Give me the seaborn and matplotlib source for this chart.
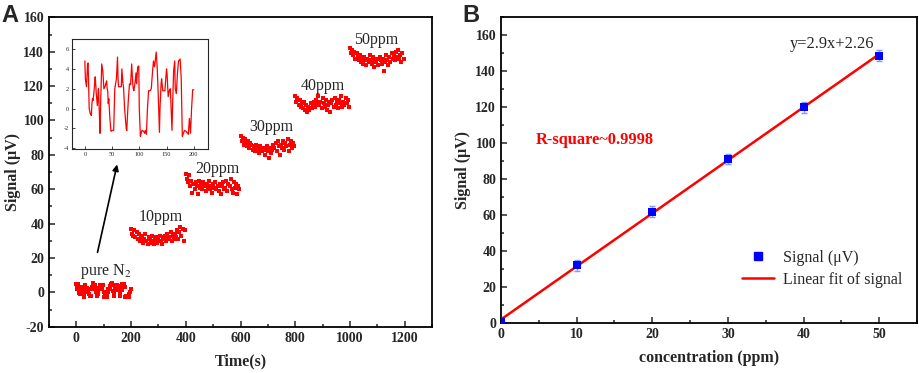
import numpy as np
import pandas as pd
import matplotlib.pyplot as plt
from matplotlib.ticker import MultipleLocator
from matplotlib.lines import Line2D
import seaborn as sns

sns.set_style("ticks")
plt.rcParams['font.family'] = ['Liberation Serif', 'DejaVu Serif']
plt.rcParams['mathtext.fontset'] = 'stix'
plt.rcParams['axes.unicode_minus'] = False

# pure N2 trace (also the inset)
n2_time = [0, 1, 3, 5, 6, 8, 10, 12, 13, 14,
           15, 17, 19, 20, 21, 23, 24, 25, 26, 27,
           28, 29, 30, 31, 33, 35, 37, 40, 41, 42,
           43, 44, 46, 48, 50, 53, 55, 58, 60, 61,
           62, 65, 67, 68, 70, 71, 73, 76, 77, 78,
           80, 82, 84, 86, 88, 89, 90, 92, 94, 95,
           97, 99, 100, 102, 103, 105, 108, 110, 111, 113,
           115, 117, 120, 122, 124, 126, 128, 131, 133, 135,
           137, 138, 140, 141, 143, 147, 150, 151, 153, 155,
           157, 160, 161, 163, 165, 166, 168, 170, 172, 175,
           177, 179, 181, 183, 186, 190, 192, 194, 196, 198, 200]
n2_signal = [4.8, 3.0, 2.2, 4.5, 4.6, 0.0, -0.5, -0.7, 0.5, 1.0,
             0.8, 1.8, 3.2, 2.5, 1.5, 0.3, 1.2, 2.0, 0.5, -1.0,
             -2.5, 0.5, 2.5, 4.5, 3.8, 2.0, 2.2, 2.8, 2.0, 1.8,
             0.5, 1.0, -1.0, -2.3, -2.2, -2.2, 2.0, 3.0, 5.2, 3.0,
             2.2, 2.2, 2.2, 4.0, 2.5, 2.2, 0.0, -2.0, -2.2, -1.0,
             1.0, 2.5, 2.4, 4.5, 2.5, 2.0, 1.8, 2.5, 3.6, 2.5,
             4.2, 4.3, 0.0, -2.8, -2.6, -2.2, -2.3, -2.5, -2.2, -2.6,
             0.0, 1.8, 1.8, 2.0, 3.5, 4.8, 4.2, 5.7, 4.0, 1.0,
             -2.4, 0.0, 2.5, 3.0, 1.8, 1.8, 4.0, 3.5, 1.2, 1.8,
             2.0, -2.2, 0.0, 3.8, 4.8, 2.0, 1.5, 3.5, 4.8, 5.0,
             3.0, -2.8, -2.5, -2.2, -2.3, -2.6, -1.0, -2.5, 0.0, 1.9, 1.9]

# later steps, one reading every 4 s
step_s = 4
seg_10 = [37, 34, 33, 36, 32, 35, 31, 34, 30, 33, 32, 29, 31, 34, 30, 28, 32, 31, 29, 33,
          30, 28, 31, 32, 29, 31, 33, 30, 28, 32, 31, 33, 30, 34, 31, 32, 35, 30, 33, 31,
          34, 32, 36, 31, 35, 38, 33, 37, 30, 36]
seg_20 = [69, 66, 64, 68, 62, 65, 58, 63, 60, 64, 62, 57, 65, 61, 63, 60, 64, 62, 59, 63,
          61, 65, 60, 62, 58, 63, 61, 64, 60, 62, 59, 63, 57, 62, 64, 60, 61, 65, 59, 63,
          62, 66, 60, 58, 64, 61, 63, 57, 62, 60]
seg_30 = [91, 88, 90, 86, 89, 87, 85, 88, 84, 87, 86, 83, 85, 82, 86, 84, 83, 81, 85, 83,
          82, 84, 80, 83, 85, 82, 78, 84, 81, 83, 86, 84, 87, 82, 88, 85, 80, 86, 84, 88,
          83, 87, 85, 89, 82, 86, 88, 84, 87, 85]
seg_40 = [114, 111, 113, 109, 112, 108, 110, 107, 111, 106, 109, 105, 108, 106, 110, 107, 109, 111, 108, 112,
          110, 114, 109, 111, 107, 113, 110, 108, 112, 106, 109, 111, 105, 110, 112, 108, 113, 109, 111, 107,
          112, 110, 114, 108, 111, 109, 113, 110, 112, 108]
seg_50 = [142, 139, 141, 138, 140, 136, 139, 137, 135, 138, 134, 136, 133, 137, 135, 132, 136, 134, 138, 135,
          133, 137, 131, 135, 134, 136, 132, 137, 135, 133, 136, 129, 134, 138, 135, 132, 137, 134, 139, 136,
          138, 135, 140, 137, 141, 136, 138, 134, 139, 136]
seg_start = [200, 400, 600, 800, 1000]

step_labels = ['pure N$_2$', '10ppm', '20ppm', '30ppm', '40ppm', '50ppm']
label_x = [106, 307, 516, 714, 902, 1097]
label_y = [12, 43.6, 72, 96, 120, 147]

# panel B
conc = [0, 10, 20, 30, 40, 50]
mean_signal = [1.0, 32.2, 61.9, 91.3, 120.0, 148.6]
signal_err = [2.5, 3.0, 3.0, 3.0, 3.0, 3.0]

frames = [pd.DataFrame({'t': n2_time, 'v': n2_signal})]
for start, vals in zip(seg_start, [seg_10, seg_20, seg_30, seg_40, seg_50]):
    frames.append(pd.DataFrame({'t': start + step_s * np.arange(len(vals)), 'v': vals}))
df = pd.concat(frames, ignore_index=True)

fig = plt.figure(figsize=(9.2, 3.73), dpi=100)
ax1 = fig.add_axes([0.0533, 0.124, 0.4163, 0.8295])
ax2 = fig.add_axes([0.5446, 0.133, 0.4521, 0.821])


def style_axis(ax):
    for s in ax.spines.values():
        s.set_linewidth(1.3)
        s.set_color('black')
    ax.tick_params(which='both', direction='in', top=False, right=False, width=1.1)
    ax.tick_params(which='major', length=4)
    ax.tick_params(which='minor', length=2.2)
    for lab in ax.get_xticklabels() + ax.get_yticklabels():
        lab.set_fontsize(10)
        lab.set_fontweight('bold')


# ---- panel A
sns.scatterplot(data=df, x='t', y='v', ax=ax1, marker='s', s=9, color='red',
                linewidth=0, legend=False)
ax1.set_xlim(-100, 1300)
ax1.set_ylim(-20, 160)
ax1.xaxis.set_major_locator(MultipleLocator(200))
ax1.xaxis.set_minor_locator(MultipleLocator(100))
ax1.yaxis.set_major_locator(MultipleLocator(20))
ax1.yaxis.set_minor_locator(MultipleLocator(10))
ax1.set_xlabel('Time(s)', fontsize=11.5, fontweight='bold', labelpad=6)
ax1.set_ylabel('Signal (μV)', fontsize=11.5, fontweight='bold', labelpad=2)
style_axis(ax1)
for txt, x, y in zip(step_labels, label_x, label_y):
    ax1.text(x, y, txt, fontsize=11.5, ha='center', va='center')
ax1.annotate('', xy=(151, 76), xytext=(75, 21.7),
             arrowprops=dict(arrowstyle='-|>', color='black', lw=1.2, mutation_scale=9))

ins = fig.add_axes([0.078, 0.600, 0.148, 0.295])
sns.lineplot(x=n2_time, y=n2_signal, ax=ins, color='red', lw=0.9)
ins.set_xlim(-24, 226)
ins.set_ylim(-4.1, 7)
ins.xaxis.set_major_locator(MultipleLocator(50))
ins.yaxis.set_major_locator(MultipleLocator(2))
for s in ins.spines.values():
    s.set_linewidth(0.8)
ins.tick_params(direction='in', length=2, width=0.6, labelsize=4.5, pad=2)

# ---- panel B
ax2.errorbar(conc, mean_signal, yerr=signal_err, fmt='none', ecolor='#7f9dff',
             elinewidth=1, capsize=2.2, capthick=1, zorder=2)
sns.regplot(x=conc, y=mean_signal, ax=ax2, scatter=False, ci=None, truncate=True,
            color='red', line_kws=dict(lw=1.8, zorder=3))
sns.scatterplot(x=conc, y=mean_signal, ax=ax2, marker='s', s=28, color='#0000ff',
                linewidth=0, zorder=4)
ax2.set_xlim(0, 55)
ax2.set_ylim(0, 170)
ax2.xaxis.set_major_locator(MultipleLocator(10))
ax2.xaxis.set_minor_locator(MultipleLocator(5))
ax2.yaxis.set_major_locator(MultipleLocator(20))
ax2.yaxis.set_minor_locator(MultipleLocator(10))
ax2.set_xlabel('concentration (ppm)', fontsize=11.5, fontweight='bold', labelpad=6)
ax2.set_ylabel('Signal (μV)', fontsize=11.5, fontweight='bold', labelpad=3)
style_axis(ax2)
ax2.text(4.6, 102, 'R-square~0.9998', color='red', fontsize=11.8, fontweight='bold',
         va='center')
ax2.text(38.2, 155, 'y=2.9x+2.26', fontsize=11.8, va='center')
handles = [Line2D([], [], marker='s', color='#0000ff', ls='none', markersize=5.5),
           Line2D([], [], color='red', lw=1.8)]
ax2.legend(handles, ['Signal (μV)', 'Linear fit of signal'], loc='lower right',
           bbox_to_anchor=(1.0, 0.07), frameon=False, fontsize=11.5, handlelength=2.0,
           handletextpad=0.6, labelspacing=0.35)

fig.text(0.002, 0.99, 'A', fontsize=17, fontweight='bold', family='Liberation Sans',
         va='top', ha='left')
fig.text(0.503, 0.99, 'B', fontsize=17, fontweight='bold', family='Liberation Sans',
         va='top', ha='left')

fig.savefig('out.png', dpi=100)
